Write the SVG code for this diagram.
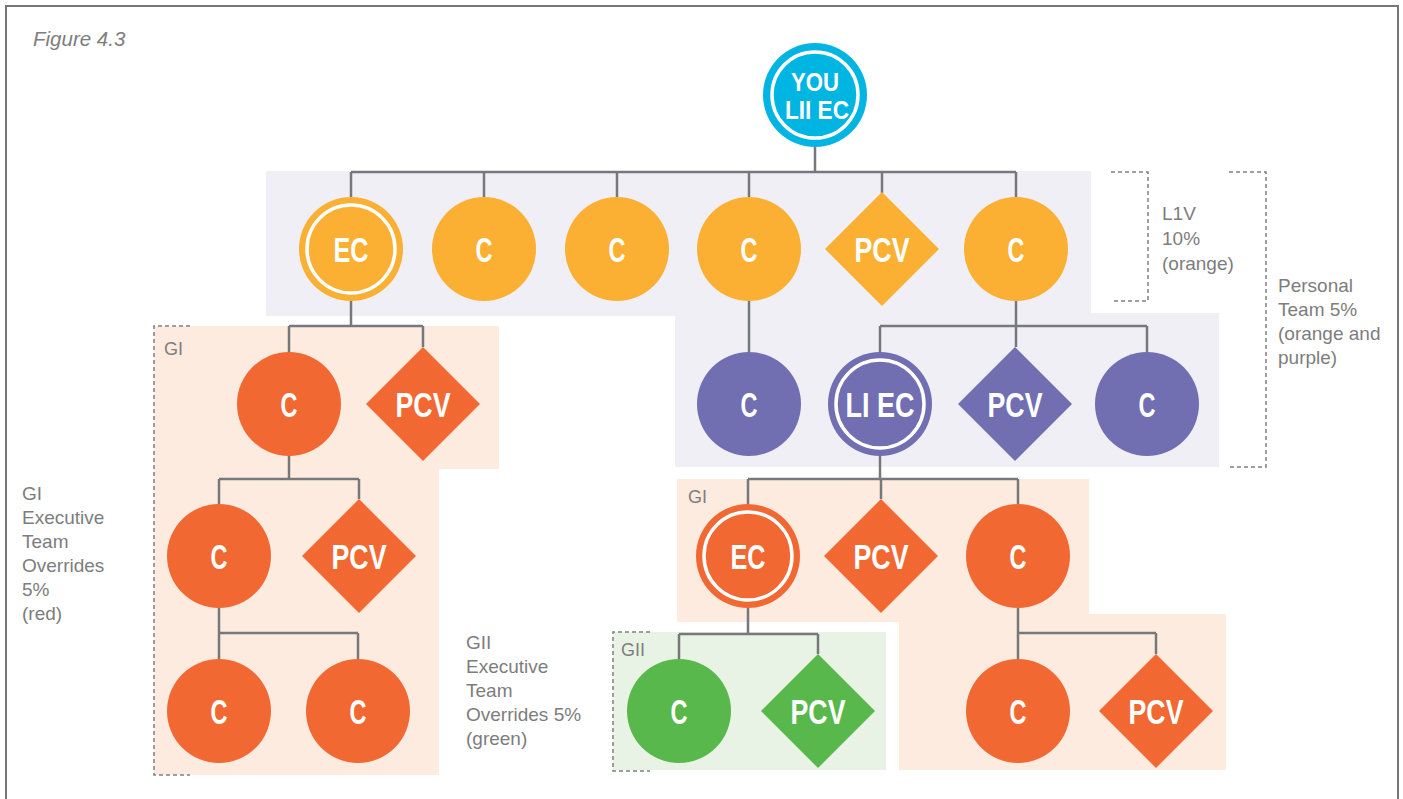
<svg xmlns="http://www.w3.org/2000/svg" width="1403" height="799" viewBox="0 0 1403 799">
<style>
.lbl{font-family:"Liberation Sans",Arial,sans-serif;font-size:19px;fill:#7d7d7d}
.nt{font-family:"Liberation Sans",Arial,sans-serif;font-weight:bold;font-size:35px;fill:#fff;text-anchor:middle}
.yt{font-family:"Liberation Sans",Arial,sans-serif;font-weight:bold;font-size:25px;fill:#fff;text-anchor:middle}
.ring{fill:none;stroke:#fff;stroke-width:3.5}
.or{fill:#fbb034}.pu{fill:#716eb1}.rd{fill:#f26833}.gr{fill:#58b84b}.cy{fill:#00b5e2}
.dash{fill:none;stroke:#808080;stroke-width:1.5;stroke-dasharray:4 3}
#connectors path{fill:none;stroke:#77787b;stroke-width:2.5}
</style>
<rect x="0" y="0" width="1403" height="799" fill="#fff"/>
<rect x="6" y="6" width="1392" height="800" fill="none" stroke="#777" stroke-width="2"/>
<text class="lbl" x="33" y="46" style="font-size:20.5px;font-style:italic">Figure 4.3</text>

<g id="backgrounds">
<polygon points="266,171 1091,171 1091,313 1219,313 1219,467 675,467 675,316 266,316" fill="#f0eff6"/>
<polygon points="154,326 499,326 499,469 439,469 439,775 154,775" fill="#fdebe0"/>
<polygon points="677,479 1089,479 1089,614 1226,614 1226,770 899,770 899,622 677,622" fill="#fdebe0"/>
<rect x="613" y="632" width="273" height="138" fill="#e9f3e5"/>
</g>

<g id="brackets">
<path class="dash" d="M1111,172 H1148 V301 H1111"/>
<path class="dash" d="M1229,172 H1266 V467 H1229"/>
<path class="dash" d="M190,326 H154 V775 H190"/>
<path class="dash" d="M650,632 H613 V771 H650"/>
</g>

<g id="labels">
<text class="lbl" x="1162" y="220">L1V</text>
<text class="lbl" x="1162" y="245">10%</text>
<text class="lbl" x="1162" y="270">(orange)</text>
<text class="lbl" x="1278" y="292">Personal</text>
<text class="lbl" x="1278" y="316">Team 5%</text>
<text class="lbl" x="1278" y="340">(orange and</text>
<text class="lbl" x="1278" y="364">purple)</text>
<text class="lbl" x="22" y="500">GI</text>
<text class="lbl" x="22" y="524">Executive</text>
<text class="lbl" x="22" y="548">Team</text>
<text class="lbl" x="22" y="572">Overrides</text>
<text class="lbl" x="22" y="596">5%</text>
<text class="lbl" x="22" y="620">(red)</text>
<text class="lbl" x="466" y="649">GII</text>
<text class="lbl" x="466" y="673">Executive</text>
<text class="lbl" x="466" y="697">Team</text>
<text class="lbl" x="466" y="721">Overrides 5%</text>
<text class="lbl" x="466" y="745">(green)</text>
<text class="lbl" x="164" y="355" style="font-size:18px">GI</text>
<text class="lbl" x="688" y="503" style="font-size:18px">GI</text>
<text class="lbl" x="621" y="656" style="font-size:18px">GII</text>
</g>

<g id="connectors">
<path d="M815,147 V172 M351,172 H1016 M351,172 V197 M484,172 V197 M617,172 V197 M749,172 V197 M882,172 V193 M1016,172 V197"/>
<path d="M351,300 V326 M289,326 H423 M289,326 V352 M423,326 V347"/>
<path d="M289,455 V479 M219,479 H359 M219,479 V504 M359,479 V499"/>
<path d="M219,608 V633 M219,633 H358 M219,633 V659 M358,633 V659"/>
<path d="M749,300 V352"/>
<path d="M1016,300 V347 M880,326 H1147 M880,326 V352 M1147,326 V352"/>
<path d="M880,455 V479 M748,479 H1018 M748,479 V504 M881,479 V499 M1018,479 V504"/>
<path d="M748,608 V634 M679,634 H818 M679,634 V659 M818,634 V654"/>
<path d="M1018,608 V633 M1018,633 H1156 M1018,633 V659 M1156,633 V654"/>
</g>

<g id="you"><circle class="cy" cx="815" cy="95" r="52"/><circle class="ring" cx="815" cy="95" r="43"/>
<text class="yt" x="815" y="91" textLength="48" lengthAdjust="spacingAndGlyphs">YOU</text>
<text class="yt" x="817" y="119" textLength="64" lengthAdjust="spacingAndGlyphs">LII EC</text></g>

<g id="r1-ec"><circle class="or" cx="351" cy="249" r="52"/><circle class="ring" cx="351" cy="249" r="44"/><text class="nt" x="351" y="262" textLength="35" lengthAdjust="spacingAndGlyphs">EC</text></g>
<g id="r1-c1"><circle class="or" cx="484" cy="249" r="52"/><text class="nt" x="484" y="262" textLength="17" lengthAdjust="spacingAndGlyphs">C</text></g>
<g id="r1-c2"><circle class="or" cx="617" cy="249" r="52"/><text class="nt" x="617" y="262" textLength="17" lengthAdjust="spacingAndGlyphs">C</text></g>
<g id="r1-c3"><circle class="or" cx="749" cy="249" r="52"/><text class="nt" x="749" y="262" textLength="17" lengthAdjust="spacingAndGlyphs">C</text></g>
<g id="r1-pcv"><polygon class="or" points="882,192 939,249 882,306 825,249"/><text class="nt" x="882" y="262" textLength="55" lengthAdjust="spacingAndGlyphs">PCV</text></g>
<g id="r1-c4"><circle class="or" cx="1016" cy="249" r="52"/><text class="nt" x="1016" y="262" textLength="17" lengthAdjust="spacingAndGlyphs">C</text></g>

<g id="l2-c"><circle class="rd" cx="289" cy="404" r="52"/><text class="nt" x="289" y="417" textLength="17" lengthAdjust="spacingAndGlyphs">C</text></g>
<g id="l2-pcv"><polygon class="rd" points="423,347 480,404 423,461 366,404"/><text class="nt" x="423" y="417" textLength="55" lengthAdjust="spacingAndGlyphs">PCV</text></g>
<g id="l3-c"><circle class="rd" cx="219" cy="556" r="52"/><text class="nt" x="219" y="569" textLength="17" lengthAdjust="spacingAndGlyphs">C</text></g>
<g id="l3-pcv"><polygon class="rd" points="359,499 416,556 359,613 302,556"/><text class="nt" x="359" y="569" textLength="55" lengthAdjust="spacingAndGlyphs">PCV</text></g>
<g id="l4-c1"><circle class="rd" cx="219" cy="711" r="52"/><text class="nt" x="219" y="724" textLength="17" lengthAdjust="spacingAndGlyphs">C</text></g>
<g id="l4-c2"><circle class="rd" cx="358" cy="711" r="52"/><text class="nt" x="358" y="724" textLength="17" lengthAdjust="spacingAndGlyphs">C</text></g>

<g id="p-c1"><circle class="pu" cx="749" cy="404" r="52"/><text class="nt" x="749" y="417" textLength="17" lengthAdjust="spacingAndGlyphs">C</text></g>
<g id="p-liec"><circle class="pu" cx="880" cy="404" r="52"/><circle class="ring" cx="880" cy="404" r="44"/><text class="nt" x="880" y="417" textLength="69" lengthAdjust="spacingAndGlyphs">LI EC</text></g>
<g id="p-pcv"><polygon class="pu" points="1015,347 1072,404 1015,461 958,404"/><text class="nt" x="1015" y="417" textLength="55" lengthAdjust="spacingAndGlyphs">PCV</text></g>
<g id="p-c2"><circle class="pu" cx="1147" cy="404" r="52"/><text class="nt" x="1147" y="417" textLength="17" lengthAdjust="spacingAndGlyphs">C</text></g>

<g id="g1-ec"><circle class="rd" cx="748" cy="556" r="52"/><circle class="ring" cx="748" cy="556" r="44"/><text class="nt" x="748" y="569" textLength="35" lengthAdjust="spacingAndGlyphs">EC</text></g>
<g id="g1-pcv"><polygon class="rd" points="881,499 938,556 881,613 824,556"/><text class="nt" x="881" y="569" textLength="55" lengthAdjust="spacingAndGlyphs">PCV</text></g>
<g id="g1-c"><circle class="rd" cx="1018" cy="556" r="52"/><text class="nt" x="1018" y="569" textLength="17" lengthAdjust="spacingAndGlyphs">C</text></g>

<g id="g2-c"><circle class="gr" cx="679" cy="711" r="52"/><text class="nt" x="679" y="724" textLength="17" lengthAdjust="spacingAndGlyphs">C</text></g>
<g id="g2-pcv"><polygon class="gr" points="818,654 875,711 818,768 761,711"/><text class="nt" x="818" y="724" textLength="55" lengthAdjust="spacingAndGlyphs">PCV</text></g>

<g id="r-c"><circle class="rd" cx="1018" cy="711" r="52"/><text class="nt" x="1018" y="724" textLength="17" lengthAdjust="spacingAndGlyphs">C</text></g>
<g id="r-pcv"><polygon class="rd" points="1156,654 1213,711 1156,768 1099,711"/><text class="nt" x="1156" y="724" textLength="55" lengthAdjust="spacingAndGlyphs">PCV</text></g>
</svg>
